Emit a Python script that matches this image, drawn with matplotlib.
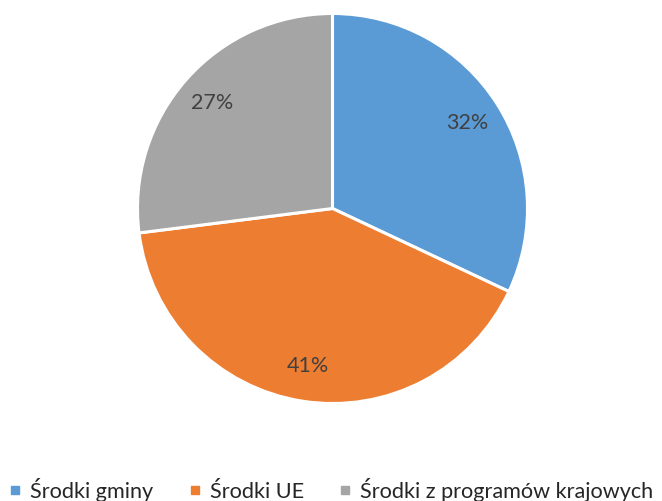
import matplotlib.pyplot as plt
from matplotlib.lines import Line2D

# data
labels = ['Środki gminy', 'Środki UE', 'Środki z programów krajowych']
shares = [32, 41, 27]
colors = ['#5B9BD5', '#ED7D31', '#A5A5A5']

plt.rcParams['font.family'] = ['Lato', 'DejaVu Sans']

W, H = 662, 501
fig = plt.figure(figsize=(W / 100, H / 100), dpi=100)

# pie centre (332.5, 208.5) px from top-left, radius 195 px
cx, cy, r = 332.5, 208.5, 195
ax = fig.add_axes([(cx - r) / W, (H - cy - r) / H, 2 * r / W, 2 * r / H])
wedges, texts, autotexts = ax.pie(
    shares, colors=colors, startangle=90, counterclock=False,
    autopct='%1.0f%%', pctdistance=0.82, radius=1,
    wedgeprops=dict(edgecolor='white', linewidth=2.2),
    textprops=dict(color='#404040', fontsize=15.5))
ax.set_xlim(-1, 1)
ax.set_ylim(-1, 1)
ax.set_aspect('equal')
ax.axis('off')

# legend at bottom
handles = [Line2D([], [], marker='s', linestyle='none', markersize=5.5,
                  markerfacecolor=c, markeredgecolor=c) for c in colors]
fig.legend(handles, labels, loc='center', bbox_to_anchor=(0.5, 1 - 490 / H),
           ncol=3, frameon=False, fontsize=15.6, handlelength=0.6,
           handletextpad=0.4, columnspacing=1.6, labelcolor='#262626')

fig.savefig('out.png', dpi=100)
